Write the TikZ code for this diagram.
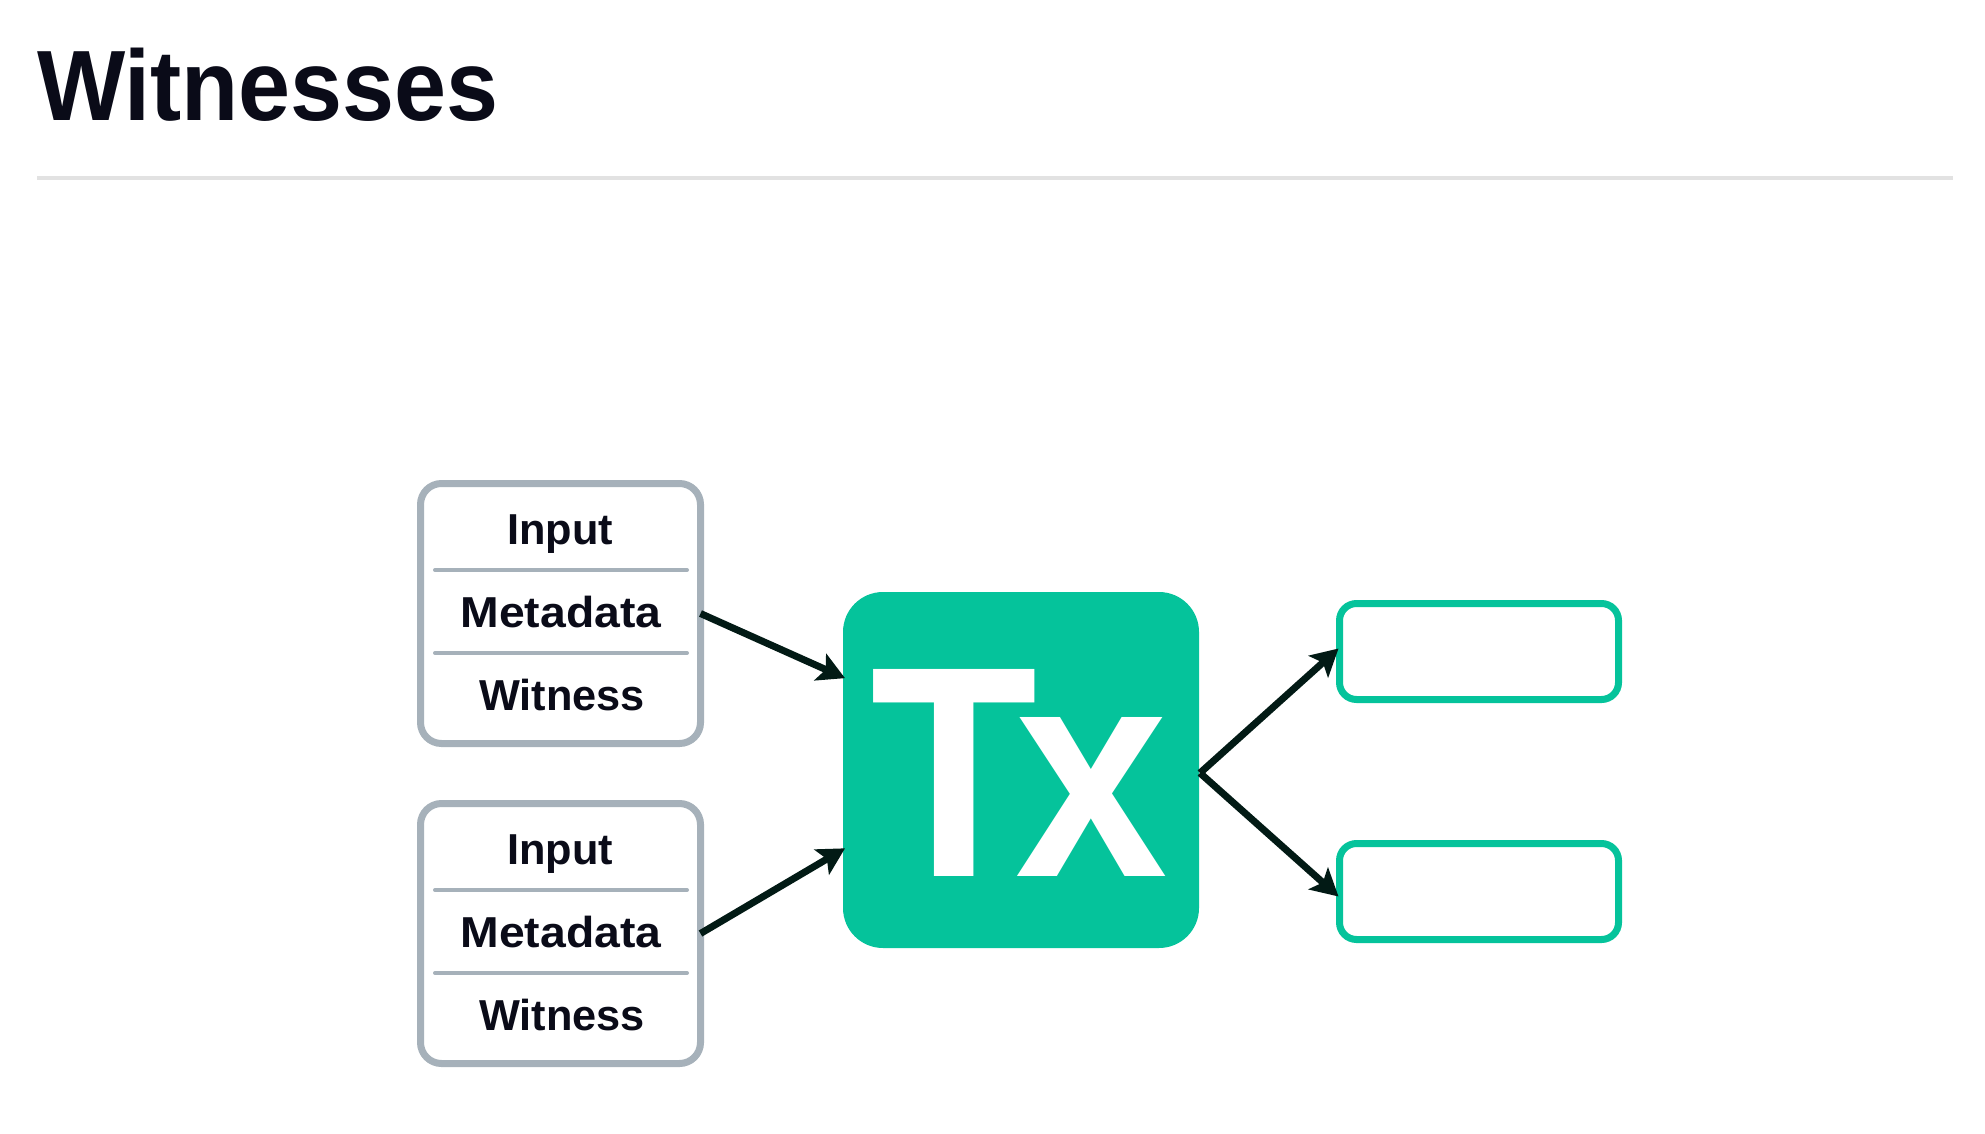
\documentclass[tikz,border=0pt]{standalone}
\usepackage{fontspec}
\setmainfont{Liberation Sans}
\usetikzlibrary{arrows.meta,calc}
\definecolor{txgreen}{HTML}{05C39B}
\definecolor{boxgray}{HTML}{A6B1BA}
\definecolor{arrowdark}{HTML}{021A15}
\definecolor{textdark}{HTML}{0A0B18}
\definecolor{rulegray}{HTML}{E2E2E2}
\begin{document}
\begin{tikzpicture}[x=1pt,y=-1pt,
  inbox/.style={draw=boxgray, line width=7pt, rounded corners=21pt, fill=white,
    minimum width=280pt, minimum height=260pt, inner sep=0pt, outer sep=0pt},
  outbox/.style={draw=txgreen, line width=7pt, rounded corners=17pt, fill=white,
    minimum width=279pt, minimum height=96pt, inner sep=0pt, outer sep=0pt},
  txbox/.style={fill=txgreen, rounded corners=40pt, minimum width=356pt,
    minimum height=356pt, inner sep=0pt, outer sep=0pt},
  lbl/.style={anchor=base, inner sep=0pt, text=textdark,
    font=\fontsize{43.3}{50}\selectfont\bfseries},
  sep/.style={draw=boxgray, line width=4pt, line cap=round},
  conn/.style={draw=arrowdark, line width=7pt,
    -{Stealth[length=27pt, width=29pt, inset=6pt]}}
]
\useasboundingbox (0,0) rectangle (1985,1134);

% title and rule
\node[anchor=base west, inner sep=0pt, text=textdark] (title) at (37,121)
  {\scalebox{0.935}[1]{\fontsize{100}{100}\selectfont\bfseries Witnesses}};
\draw[rulegray, line width=4pt] (37,178) -- (1953,178);

% input boxes
\node[inbox] (in1) at (560.5,613.5) {};
\node[inbox] (in2) at (560.5,933.5) {};
\draw[sep] (435,570) -- (687,570);
\draw[sep] (435,653) -- (687,653);
\draw[sep] (435,890) -- (687,890);
\draw[sep] (435,973) -- (687,973);
\node[lbl] (in1a) at (560,544) {Input};
\node[lbl] (in1b) at (561,627) {\scalebox{1.07}[1]{Metadata}};
\node[lbl] (in1c) at (562,710) {Witness};
\node[lbl] (in2a) at (560,864) {Input};
\node[lbl] (in2b) at (561,947) {\scalebox{1.07}[1]{Metadata}};
\node[lbl] (in2c) at (562,1030) {Witness};

% Tx box
\node[txbox] (tx) at (1021,770) {};
\node[anchor=base, inner sep=0pt, text=white] (txlabel) at (1019,876)
  {\scalebox{0.91}[1]{\fontsize{301}{301}\selectfont\bfseries T\kern-0.08em x}};

% output boxes
\node[outbox] (out1) at (1479,651.5) {};
\node[outbox] (out2) at (1479,891.5) {};

% connectors
\coordinate (txin1) at ($(tx.north west)!0.242!(tx.south west)+(2,0)$);
\coordinate (txin2) at ($(tx.north west)!0.72!(tx.south west)+(2,0)$);
\coordinate (txout) at ($(tx.east)+(1,3)$);
\coordinate (out1in) at ($(out1.west)+(-1,-3)$);
\coordinate (out2in) at ($(out2.west)+(-1,5)$);
\draw[conn] (in1.east) -- (txin1);
\draw[conn] (in2.east) -- (txin2);
\draw[conn] (txout) -- (out1in);
\draw[conn] (txout) -- (out2in);
\end{tikzpicture}
\end{document}
